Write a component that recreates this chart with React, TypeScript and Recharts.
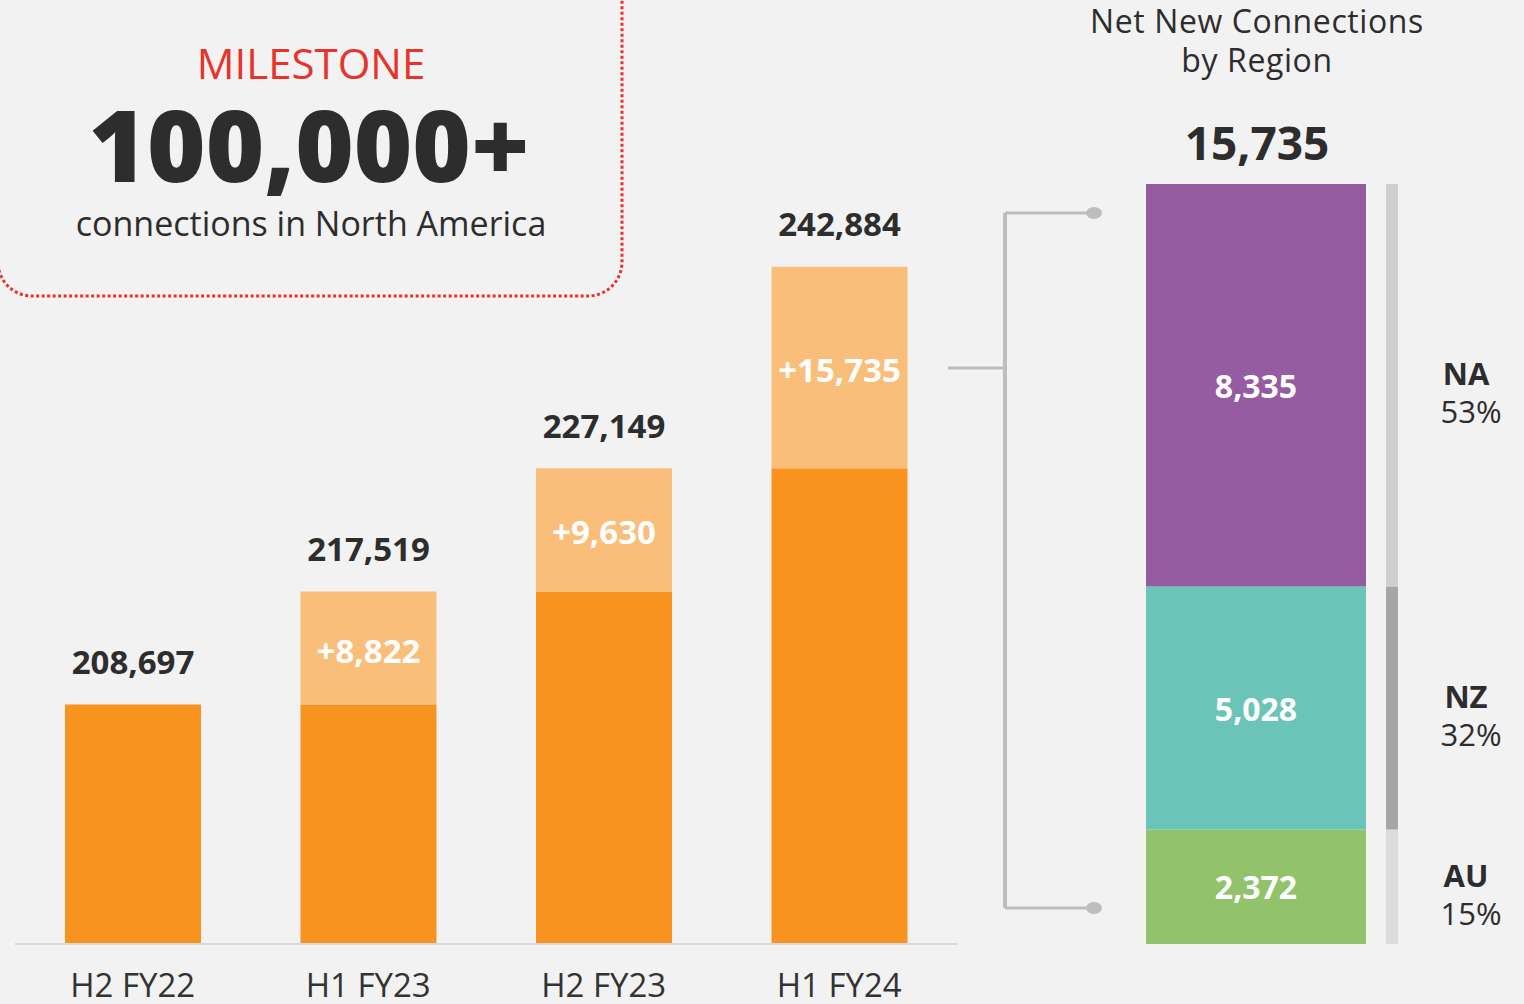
import React from 'react';
import { BarChart, Bar, XAxis, YAxis, LabelList } from 'recharts';

const FONT = '"Open Sans", "Noto Sans", sans-serif';
const DARK = '#2d2d2d';

// Left chart data
const categories = ['H2 FY22', 'H1 FY23', 'H2 FY23', 'H1 FY24'];
const totals = [208697, 217519, 227149, 242884];
const increments = [0, 8822, 9630, 15735];
const axisDomain: [number, number] = [190000, 263700];

// Right chart data
const regions = ['NA', 'NZ', 'AU'];
const regionValues = [8335, 5028, 2372];
const regionColors = ['#955CA1', '#6AC5B8', '#92C26B'];
const stripColors = ['#cfcfcf', '#a6a6a6', '#dcdcdc'];

const fmt = (v: number) => v.toLocaleString('en-US');

const leftData = categories.map((c, i) => ({
  name: c,
  base: totals[i] - increments[i],
  inc: increments[i],
  soloTotal: increments[i] > 0 ? null : totals[i],
  stackTotal: increments[i] > 0 ? totals[i] : null,
}));

const regionTotal = regionValues.reduce((a, b) => a + b, 0);
const regionRow: Record<string, any> = { name: 'Net New' };
regions.forEach((r, i) => {
  regionRow[r] = regionValues[i];
});
const regionData = [regionRow];

const box = (p: any) => {
  const vb = p.viewBox || p;
  return { x: Number(vb.x), y: Number(vb.y), w: Number(vb.width), h: Number(vb.height) };
};

const IncLabel = (p: any) => {
  if (!p.value) return null;
  const { x, y, w, h } = box(p);
  return (
    <text x={x + w / 2} y={y + h / 2 + 2} textAnchor="middle" dominantBaseline="central"
      fill="#ffffff" fontFamily={FONT} fontWeight={700} fontSize={33}>
      {'+' + fmt(p.value)}
    </text>
  );
};

const TotalLabel = (p: any) => {
  if (p.value === null || p.value === undefined || p.value === '') return null;
  const { x, y, w } = box(p);
  return (
    <text x={x + w / 2} y={y - 43} textAnchor="middle" dominantBaseline="central"
      fill={DARK} fontFamily={FONT} fontWeight={700} fontSize={33}>
      {fmt(Number(p.value))}
    </text>
  );
};

const RegionValueLabel = (p: any) => {
  const { x, y, w, h } = box(p);
  return (
    <text x={x + w / 2} y={y + h / 2} textAnchor="middle" dominantBaseline="central"
      fill="#ffffff" fontFamily={FONT} fontWeight={700} fontSize={32}>
      {fmt(p.value)}
    </text>
  );
};

const makeStripLabel = (name: string) => (p: any) => {
  const { x, y, h } = box(p);
  const cy = y + h / 2;
  const pct = Math.round((Number(p.value) / regionTotal) * 100);
  return (
    <g>
      <text x={x + 80} y={cy - 12} textAnchor="middle" dominantBaseline="central"
        fill={DARK} fontFamily={FONT} fontWeight={700} fontSize={31}>
        {name}
      </text>
      <text x={x + 85} y={cy + 26} textAnchor="middle" dominantBaseline="central"
        fill={DARK} fontFamily={FONT} fontWeight={400} fontSize={31}>
        {pct + '%'}
      </text>
    </g>
  );
};

export default function App() {
  // stacking order bottom->top: AU, NZ, NA
  const order = [2, 1, 0];
  return (
    <div style={{ position: 'absolute', left: 0, top: 0, width: 1524, height: 1004, background: '#f2f2f2', overflow: 'hidden', fontFamily: FONT }}>
      <div style={{ position: 'absolute', left: 0, top: 0 }}>
        <BarChart width={960} height={1004} data={leftData} margin={{ top: 0, right: 3, bottom: 0, left: 15 }} barCategoryGap={0}>
          <XAxis dataKey="name" height={60} interval={0}
            axisLine={{ stroke: '#d9d9d9', strokeWidth: 2 }} tickLine={false} tickMargin={24}
            tick={{ fill: '#333333', fontSize: 33, fontFamily: FONT }} />
          <YAxis hide type="number" domain={axisDomain} allowDataOverflow />
          <Bar dataKey="base" stackId="a" fill="#F7931E" barSize={136} isAnimationActive={false}>
            <LabelList dataKey="soloTotal" content={TotalLabel} />
          </Bar>
          <Bar dataKey="inc" stackId="a" fill="#FABE7B" barSize={136} isAnimationActive={false}>
            <LabelList dataKey="inc" content={IncLabel} />
            <LabelList dataKey="stackTotal" content={TotalLabel} />
          </Bar>
        </BarChart>
      </div>

      <div style={{ position: 'absolute', left: 1146, top: 184 }}>
        <BarChart width={220} height={760} data={regionData} margin={{ top: 0, right: 0, bottom: 0, left: 0 }} barCategoryGap={0}>
          <XAxis dataKey="name" hide />
          <YAxis hide type="number" domain={[0, regionTotal]} />
          {order.map((i) => (
            <Bar key={regions[i]} dataKey={regions[i]} stackId="r" fill={regionColors[i]} isAnimationActive={false}>
              <LabelList dataKey={regions[i]} content={RegionValueLabel} />
            </Bar>
          ))}
        </BarChart>
      </div>

      <div style={{ position: 'absolute', left: 1386, top: 184 }}>
        <BarChart width={138} height={760} data={regionData} margin={{ top: 0, right: 126, bottom: 0, left: 0 }} barCategoryGap={0}>
          <XAxis dataKey="name" hide />
          <YAxis hide type="number" domain={[0, regionTotal]} />
          {order.map((i) => (
            <Bar key={regions[i]} dataKey={regions[i]} stackId="s" fill={stripColors[i]} isAnimationActive={false}>
              <LabelList dataKey={regions[i]} content={makeStripLabel(regions[i])} />
            </Bar>
          ))}
        </BarChart>
      </div>

      <svg width={1524} height={1004} style={{ position: 'absolute', left: 0, top: 0, pointerEvents: 'none' }}>
        {/* milestone box */}
        <rect x={-2} y={-40} width={624} height={336} rx={34} ry={34} fill="none"
          stroke="#E8332B" strokeWidth={3} strokeDasharray="3 2.5" />
        <text x={311} y={62} textAnchor="middle" dominantBaseline="central" fill="#E8332B"
          fontFamily={FONT} fontSize={42} fontWeight={400}>MILESTONE</text>
        <text x={309} y={143} textAnchor="middle" dominantBaseline="central" fill={DARK}
          fontFamily={FONT} fontSize={100} fontWeight={800}>100,000+</text>
        <text x={311} y={223} textAnchor="middle" dominantBaseline="central" fill={DARK}
          fontFamily={FONT} fontSize={34} fontWeight={400}>connections in North America</text>

        {/* right title */}
        <text x={1257} y={20} textAnchor="middle" dominantBaseline="central" fill={DARK}
          fontFamily={FONT} fontSize={32} fontWeight={400} letterSpacing={0.6}>Net New Connections</text>
        <text x={1257} y={59} textAnchor="middle" dominantBaseline="central" fill={DARK}
          fontFamily={FONT} fontSize={32} fontWeight={400} letterSpacing={0.6}>by Region</text>
        <text x={1257} y={142} textAnchor="middle" dominantBaseline="central" fill={DARK}
          fontFamily={FONT} fontSize={46} fontWeight={700}>{fmt(regionTotal)}</text>

        {/* bracket connector */}
        <g stroke="#bdbdbd" fill="none">
          <line x1={948} y1={368} x2={1005} y2={368} strokeWidth={3} />
          <line x1={1005} y1={213} x2={1005} y2={908} strokeWidth={4} />
          <line x1={1005} y1={213} x2={1092} y2={213} strokeWidth={3} />
          <line x1={1005} y1={908} x2={1092} y2={908} strokeWidth={3} />
        </g>
        <ellipse cx={1094} cy={213} rx={8} ry={6} fill="#bdbdbd" />
        <ellipse cx={1094} cy={908} rx={8} ry={6} fill="#bdbdbd" />
      </svg>
    </div>
  );
}
